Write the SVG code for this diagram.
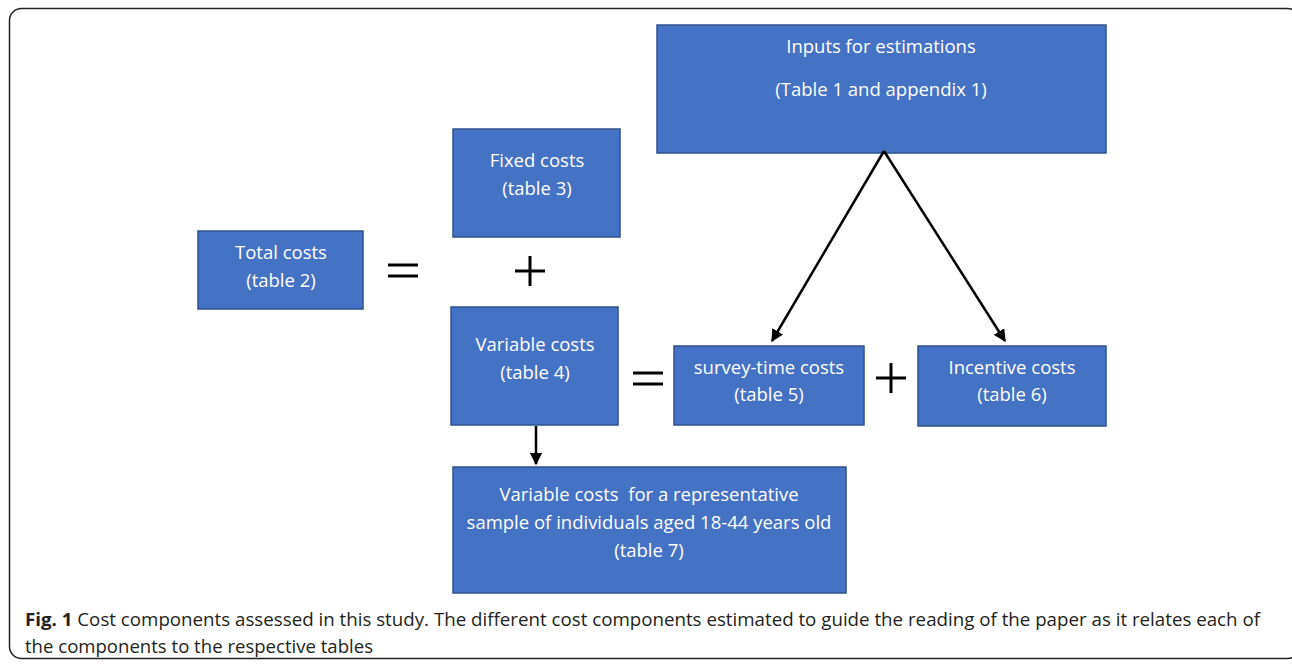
<svg xmlns="http://www.w3.org/2000/svg" width="1292" height="664" viewBox="0 0 1292 664">
<style>
.box{fill:#4472C4;stroke:#2F528F;stroke-width:1.5}
.t{font-family:"Open Sans","Noto Sans",sans-serif;font-size:18.5px;fill:#ffffff;text-anchor:middle}
.op{stroke:#000;stroke-width:3;fill:none}
.cap{font-family:"Open Sans","Noto Sans",sans-serif;font-size:18px;fill:#231f20}
.ln{stroke:#000;stroke-width:2.5;fill:none}
</style>
<defs>
<marker id="ah" viewBox="0 0 10 10" refX="9" refY="5" markerWidth="5" markerHeight="5" orient="auto" markerUnits="strokeWidth">
<path d="M0,0 L10,5 L0,10 z" fill="#000"/>
</marker>
</defs>
<rect x="9.5" y="8.5" width="1290" height="650" rx="12" fill="#fff" stroke="#222" stroke-width="1.5"/>
<g id="inputs"><rect class="box" x="657" y="25" width="449" height="128"/>
<text class="t" x="881" y="53">Inputs for estimations</text>
<text class="t" x="881" y="96">(Table 1 and appendix 1)</text></g>
<g id="fixed"><rect class="box" x="453" y="129" width="167" height="108"/>
<text class="t" x="537" y="167">Fixed costs</text>
<text class="t" x="537" y="195">(table 3)</text></g>
<g id="total"><rect class="box" x="198" y="231" width="165" height="78"/>
<text class="t" x="281" y="259">Total costs</text>
<text class="t" x="281" y="287">(table 2)</text></g>
<g id="variable"><rect class="box" x="451" y="307" width="167" height="118"/>
<text class="t" x="535" y="351">Variable costs</text>
<text class="t" x="535" y="379">(table 4)</text></g>
<g id="survey"><rect class="box" x="674" y="346" width="190" height="79"/>
<text class="t" x="769" y="374">survey-time costs</text>
<text class="t" x="769" y="401">(table 5)</text></g>
<g id="incentive"><rect class="box" x="918" y="346" width="188" height="80"/>
<text class="t" x="1012" y="374">Incentive costs</text>
<text class="t" x="1012" y="401">(table 6)</text></g>
<g id="sample"><rect class="box" x="453" y="467" width="393" height="126"/>
<text class="t" x="649" y="501" xml:space="preserve">Variable costs  for a representative</text>
<text class="t" x="649" y="529">sample of individuals aged 18-44 years old</text>
<text class="t" x="649" y="557">(table 7)</text></g>
<g id="operators">
<path class="op" d="M388,265 H418 M388,276 H418"/>
<path class="op" d="M515,271 H545 M530,256 V286"/>
<path class="op" d="M633,373 H663 M633,384 H663"/>
<path class="op" d="M876,378 H906 M891,363 V393"/>
</g>
<g id="connectors">
<path class="ln" d="M884,151 L772,341" marker-end="url(#ah)"/>
<path class="ln" d="M884,151 L1005,341" marker-end="url(#ah)"/>
<path class="ln" d="M536,426 V464" marker-end="url(#ah)"/>
</g>
<text class="cap" x="25" y="626" textLength="1235" lengthAdjust="spacingAndGlyphs"><tspan font-weight="bold">Fig. 1</tspan> Cost components assessed in this study. The different cost components estimated to guide the reading of the paper as it relates each of</text>
<text class="cap" x="25" y="653" textLength="348" lengthAdjust="spacingAndGlyphs">the components to the respective tables</text>
</svg>
